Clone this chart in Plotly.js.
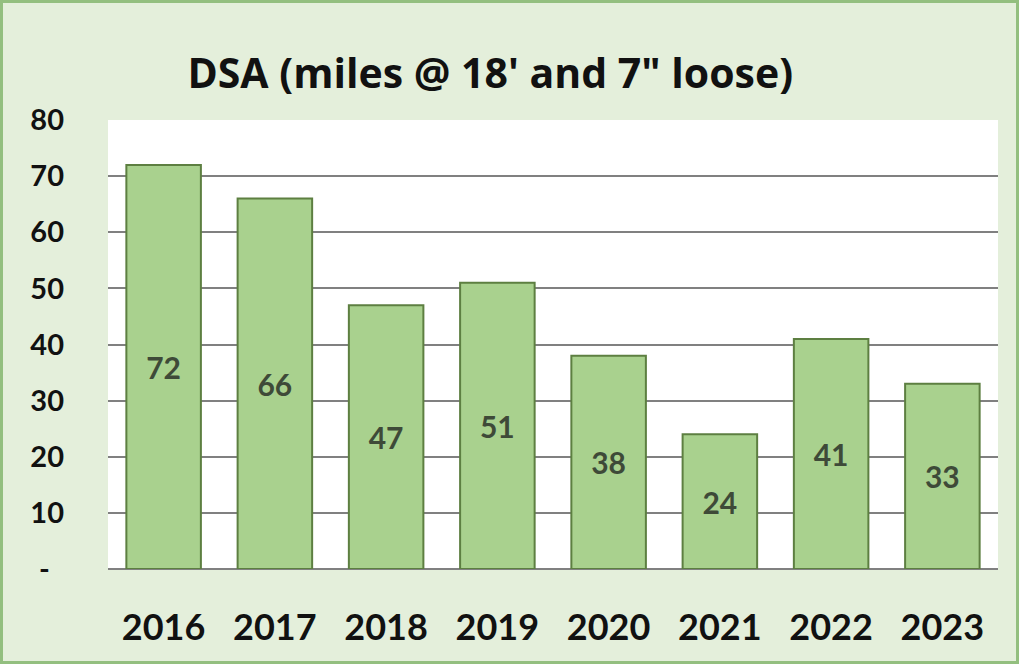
<!DOCTYPE html>
<html>
<head>
<meta charset="utf-8">
<script src="https://cdn.plot.ly/plotly-3.0.1.min.js"></script>
<style>
  html, body { margin: 0; padding: 0; background: #e4efdb; }
  #wrap { width: 1019px; height: 664px; box-sizing: border-box; border: 3px solid #93bf7f; background: #e4efdb; }
  #chart { width: 1013px; height: 658px; }
</style>
</head>
<body>
<div id="wrap"><div id="chart"></div></div>
<script>
const years = ['2016', '2017', '2018', '2019', '2020', '2021', '2022', '2023'];
const miles = [72, 66, 47, 51, 38, 24, 41, 33];
const yTickVals = [0, 10, 20, 30, 40, 50, 60, 70, 80];
const yTickText = ['-\u00a0\u00a0', '10', '20', '30', '40', '50', '60', '70', '80'];
const titleText = "DSA (miles @ 18' and 7\" loose)";

const FONT = 'Lato, "Open Sans", sans-serif';
const TFONT = '"Open Sans", Lato, sans-serif';

const trace = {
  type: 'bar',
  x: years,
  y: miles,
  text: miles.map(String),
  textposition: 'inside',
  insidetextanchor: 'middle',
  textangle: 0,
  textfont: { family: FONT, size: 30, color: '#3e4a38', weight: 'bold' },
  marker: { color: '#a9d18e', line: { color: '#5d7f41', width: 2 } },
  width: 0.67,
  hoverinfo: 'skip'
};

const layout = {
  width: 1013,
  height: 658,
  margin: { l: 105, r: 18, t: 117, b: 92 },
  paper_bgcolor: '#e4efdb',
  plot_bgcolor: '#ffffff',
  showlegend: false,
  title: {
    text: '<b>' + titleText + '</b>',
    font: { family: TFONT, size: 41, color: '#111111' },
    xref: 'container', x: 0.481, xanchor: 'center',
    yref: 'container', y: 0.893, yanchor: 'middle'
  },
  xaxis: {
    type: 'category',
    showgrid: false,
    showline: false,
    zeroline: false,
    ticks: '',
    ticklabelstandoff: 34,
    tickfont: { family: FONT, size: 36, color: '#111111', weight: 'bold' }
  },
  yaxis: {
    range: [0, 80],
    tickvals: yTickVals,
    ticktext: yTickText,
    showgrid: true,
    gridcolor: '#808080',
    gridwidth: 2,
    zeroline: true,
    zerolinecolor: '#808080',
    zerolinewidth: 2,
    showline: false,
    ticks: '',
    ticklabelstandoff: 43,
    tickfont: { family: FONT, size: 29, color: '#111111', weight: 'bold' },
    fixedrange: true
  }
};

Plotly.newPlot('chart', [trace], layout, { displayModeBar: false, staticPlot: true });
</script>
</body>
</html>
